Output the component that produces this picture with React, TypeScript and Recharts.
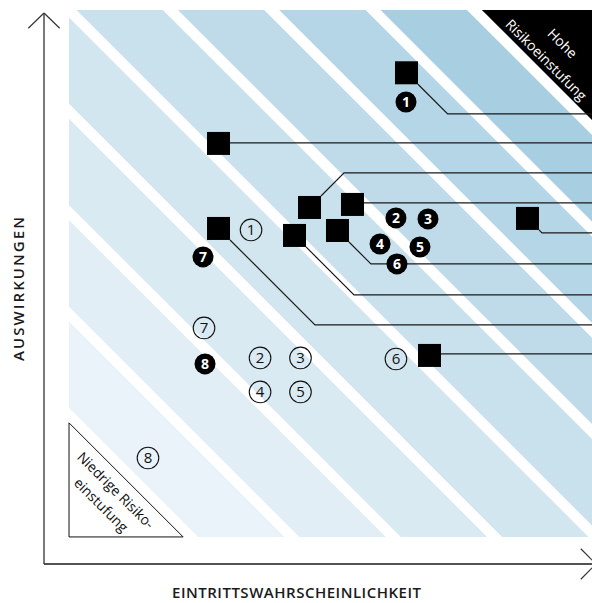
import React from 'react';
import { ComposedChart, XAxis, YAxis, Scatter, ReferenceArea, ReferenceLine } from 'recharts';

// ---- data ----
const X_DOMAIN: [number, number] = [-3.47, 51];
const Y_DOMAIN: [number, number] = [-3.67, 50.7];
const FIELD = { x0: -1, x1: 51, y0: -1, y1: 51 };

const riskThresholds = [10, 20, 30, 40, 50, 60, 70, 80, 90];
const stripeHalf = 0.74;
const bandColors = ['#eaf3f9', '#e1eef6', '#d9eaf3', '#d2e6f0', '#c9e1ed', '#bfdbea', '#b5d6e6', '#a8cee2'];

const squareX = [32.3, 13.75, 22.73, 26.97, 44.24, 25.49, 21.25, 13.75, 34.57];
const squareY = [44.8, 37.83, 31.51, 31.81, 30.43, 29.24, 28.75, 29.44, 16.91];
const leaderLevels = [40.74, 37.88, 34.92, 31.96, 29.0, 25.94, 22.88, 19.92, 17.06];

const filledLabels = ['1', '2', '3', '4', '5', '6', '7', '8'];
const filledX = [32.25, 31.26, 34.42, 29.69, 33.63, 31.36, 12.22, 12.42];
const filledY = [41.92, 30.48, 30.38, 27.91, 27.61, 25.94, 26.63, 16.07];

const outlineLabels = ['1', '2', '3', '4', '5', '6', '7', '8'];
const outlineX = [16.96, 17.85, 21.84, 17.85, 21.84, 31.26, 12.32, 6.79];
const outlineY = [29.29, 16.66, 16.66, 13.31, 13.31, 16.56, 19.62, 6.79];

const lowLabelLines = ['Niedrige Risiko-', 'einstufung'];
const lowLabelPos = [3.6, 2.16];
const highLabelLines = ['Hohe', 'Risikoeinstufung'];
const highLabelPos = [47.69, 46.07];

const xTitle = 'EINTRITTSWAHRSCHEINLICHKEIT';
const yTitle = 'AUSWIRKUNGEN';

// ---- derived ----
const squares = squareX.map((x, i) => ({ x, y: squareY[i] }));
const filled = filledX.map((x, i) => ({ x, y: filledY[i], label: filledLabels[i] }));
const outlined = outlineX.map((x, i) => ({ x, y: outlineY[i], label: outlineLabels[i] }));

const SQ_HALF = 1.135;
function leaderPoints(i: number) {
  const sx = squareX[i], sy = squareY[i], lv = leaderLevels[i];
  const x0 = sx + SQ_HALF;
  if (Math.abs(lv - sy) <= SQ_HALF) return [{ x: x0, y: lv }, { x: FIELD.x1, y: lv }];
  if (lv < sy) {
    const y0 = sy - SQ_HALF;
    return [{ x: x0, y: y0 }, { x: x0 + (y0 - lv), y: lv }, { x: FIELD.x1, y: lv }];
  }
  const y0 = sy + SQ_HALF;
  return [{ x: x0, y: y0 }, { x: x0 + (lv - y0), y: lv }, { x: FIELD.x1, y: lv }];
}
const leaders = squareX.map((_, i) => leaderPoints(i));

type Pt = [number, number];
function clip(poly: Pt[], f: (p: Pt) => number): Pt[] {
  const out: Pt[] = [];
  for (let i = 0; i < poly.length; i++) {
    const a = poly[i], b = poly[(i + 1) % poly.length];
    const fa = f(a), fb = f(b);
    if (fa >= 0) out.push(a);
    if ((fa >= 0) !== (fb >= 0)) {
      const t = fa / (fa - fb);
      out.push([a[0] + t * (b[0] - a[0]), a[1] + t * (b[1] - a[1])]);
    }
  }
  return out;
}
function region(lo: number, hi: number): Pt[] {
  let poly: Pt[] = [[FIELD.x0, FIELD.y0], [FIELD.x1, FIELD.y0], [FIELD.x1, FIELD.y1], [FIELD.x0, FIELD.y1]];
  poly = clip(poly, (p) => p[0] + p[1] - lo);
  poly = clip(poly, (p) => hi - (p[0] + p[1]));
  return poly;
}

const FONT = '"Open Sans", "DejaVu Sans", sans-serif';

const FieldShape = (props: any) => {
  const { x, y, width, height } = props;
  const map = (p: Pt): [number, number] => [
    x + ((p[0] - FIELD.x0) / (FIELD.x1 - FIELD.x0)) * width,
    y + ((FIELD.y1 - p[1]) / (FIELD.y1 - FIELD.y0)) * height,
  ];
  const pts = (poly: Pt[]) => poly.map((p) => map(p).join(',')).join(' ');
  const t = riskThresholds;
  const low = region(-1000, t[0] - stripeHalf);
  const high = region(t[t.length - 1] + stripeHalf, 1000);
  return (
    <g>
      {bandColors.map((c, i) => (
        <polygon key={i} points={pts(region(t[i] + stripeHalf, t[i + 1] - stripeHalf))} fill={c} />
      ))}
      <polygon points={pts(low)} fill="#fff" stroke="#111" strokeWidth={1} />
      <polygon points={pts(high)} fill="#000" />
      {lowLabelLines.map((s, i) => {
        const [px, py] = map([lowLabelPos[i], lowLabelPos[i]]);
        return (
          <text key={s} transform={`translate(${px},${py}) rotate(45)`} textAnchor="middle" dy="0.35em"
            fontSize={14} fontFamily={FONT} fill="#111">{s}</text>
        );
      })}
      {highLabelLines.map((s, i) => {
        const [px, py] = map([highLabelPos[i], highLabelPos[i]]);
        return (
          <text key={s} transform={`translate(${px},${py}) rotate(45)`} textAnchor="middle" dy="0.35em"
            fontSize={14} fontFamily={FONT} fill="#fff">{s}</text>
        );
      })}
    </g>
  );
};

const SquareShape = (p: any) => (
  <rect x={p.cx - 11.5} y={p.cy - 11.5} width={23} height={23} fill="#000" />
);
const FilledCircle = (p: any) => (
  <g>
    <circle cx={p.cx} cy={p.cy} r={10.5} fill="#000" />
    <text x={p.cx} y={p.cy} dy="0.36em" textAnchor="middle" fill="#fff" fontSize={14} fontWeight={700}
      fontFamily={FONT}>{p.payload.label}</text>
  </g>
);
const OutlineCircle = (p: any) => (
  <g>
    <circle cx={p.cx} cy={p.cy} r={10.8} fill="none" stroke="#111" strokeWidth={1.1} />
    <text x={p.cx} y={p.cy} dy="0.36em" textAnchor="middle" fill="#111" fontSize={15} fontWeight={500}
      fontFamily={FONT}>{p.payload.label}</text>
  </g>
);
const NoShape = () => <g />;

export default function App() {
  const ax = X_DOMAIN[0], ay = Y_DOMAIN[0], ty = Y_DOMAIN[1];
  return (
    <div style={{ position: 'fixed', left: 0, top: 0, width: 592, height: 603, overflow: 'hidden', background: '#fff' }}>
      <ComposedChart width={600} height={603} margin={{ top: 13, right: 4, bottom: 39, left: 44 }}>
        <XAxis type="number" dataKey="x" domain={X_DOMAIN} allowDataOverflow hide />
        <YAxis type="number" dataKey="y" domain={Y_DOMAIN} allowDataOverflow hide />
        <ReferenceArea x1={FIELD.x0} x2={FIELD.x1} y1={FIELD.y0} y2={FIELD.y1} ifOverflow="visible" shape={FieldShape} />
        <ReferenceLine segment={[{ x: ax, y: ay }, { x: ax, y: ty }]} ifOverflow="visible" stroke="#7a7a7a" strokeWidth={2} />
        <ReferenceLine segment={[{ x: ax, y: ay }, { x: FIELD.x1, y: ay }]} ifOverflow="visible" stroke="#1a1a1a" strokeWidth={1.5} />
        <ReferenceLine segment={[{ x: ax - 1.55, y: ty - 1.5 }, { x: ax, y: ty }]} ifOverflow="visible" stroke="#333" strokeWidth={1.2} />
        <ReferenceLine segment={[{ x: ax + 1.55, y: ty - 1.5 }, { x: ax, y: ty }]} ifOverflow="visible" stroke="#333" strokeWidth={1.2} />
        <ReferenceLine segment={[{ x: FIELD.x1 - 1.5, y: ay + 1.5 }, { x: FIELD.x1, y: ay }]} ifOverflow="visible" stroke="#333" strokeWidth={1.2} />
        <ReferenceLine segment={[{ x: FIELD.x1 - 1.5, y: ay - 1.5 }, { x: FIELD.x1, y: ay }]} ifOverflow="visible" stroke="#333" strokeWidth={1.2} />
        {leaders.map((pts, i) => (
          <Scatter key={'l' + i} data={pts} line={{ stroke: '#1a1a1a', strokeWidth: 1.2 }} shape={NoShape}
            isAnimationActive={false} />
        ))}
        <Scatter data={squares} shape={SquareShape} isAnimationActive={false} />
        <Scatter data={filled} shape={FilledCircle} isAnimationActive={false} />
        <Scatter data={outlined} shape={OutlineCircle} isAnimationActive={false} />
        <text transform="translate(24,289) rotate(-90)" textAnchor="middle" fontSize={15} fontWeight={600}
          fontFamily={FONT} fill="#1a1a1a" textLength={144} lengthAdjust="spacing">{yTitle}</text>
        <text x={296.5} y={598} textAnchor="middle" fontSize={15} fontWeight={600}
          fontFamily={FONT} fill="#1a1a1a" textLength={249} lengthAdjust="spacing">{xTitle}</text>
      </ComposedChart>
    </div>
  );
}
